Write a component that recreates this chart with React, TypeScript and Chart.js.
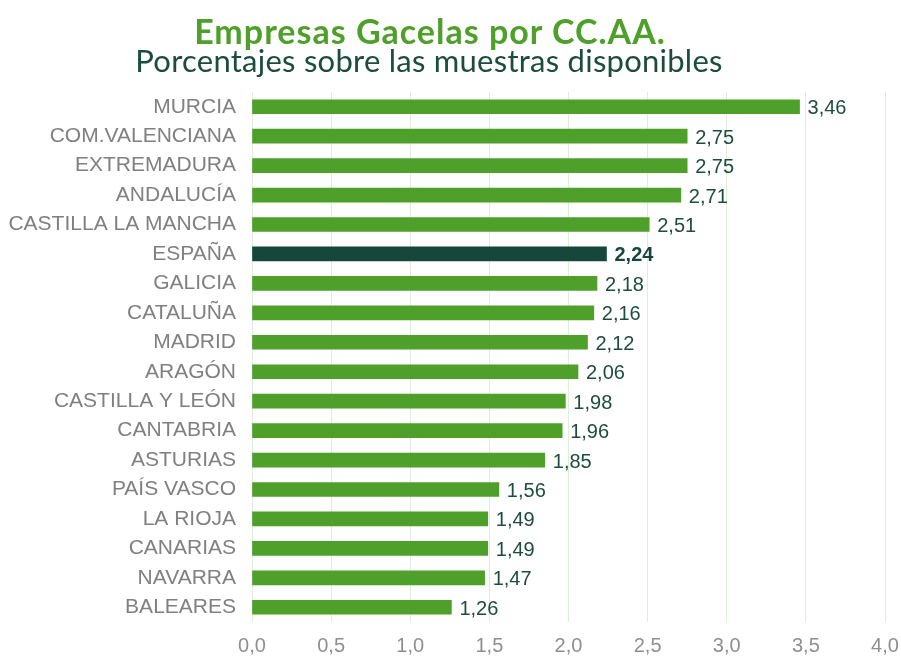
import React, { useEffect, useRef } from "react";
import { Chart, registerables } from "chart.js";

Chart.register(...registerables);

const categories = [
  "MURCIA",
  "COM.VALENCIANA",
  "EXTREMADURA",
  "ANDALUCÍA",
  "CASTILLA LA MANCHA",
  "ESPAÑA",
  "GALICIA",
  "CATALUÑA",
  "MADRID",
  "ARAGÓN",
  "CASTILLA Y LEÓN",
  "CANTABRIA",
  "ASTURIAS",
  "PAÍS VASCO",
  "LA RIOJA",
  "CANARIAS",
  "NAVARRA",
  "BALEARES",
];

const values = [3.46, 2.75, 2.75, 2.71, 2.51, 2.24, 2.18, 2.16, 2.12, 2.06, 1.98, 1.96, 1.85, 1.56, 1.49, 1.49, 1.47, 1.26];

const highlight = "ESPAÑA";
const titleText = "Empresas Gacelas por CC.AA.";
const subtitleText = "Porcentajes sobre las muestras disponibles";

const GREEN = "#4f9f2b";
const DARK = "#17473a";
const FONT = "'Liberation Sans', Arial, sans-serif";

const fmt = (v: number, d: number) => v.toFixed(d).replace(".", ",");

const valueLabels = {
  id: "valueLabels",
  afterDatasetsDraw(chart: any) {
    const ctx = chart.ctx;
    const meta = chart.getDatasetMeta(0);
    ctx.save();
    ctx.textBaseline = "middle";
    ctx.textAlign = "left";
    meta.data.forEach((bar: any, i: number) => {
      const isHi = categories[i] === highlight;
      ctx.font = (isHi ? "bold " : "") + "20px " + FONT;
      ctx.fillStyle = isHi ? DARK : "#1e4d3c";
      ctx.fillText(fmt(values[i], 2), bar.x + 8, bar.y + 2);
    });
    ctx.restore();
  },
};

export default function App() {
  const ref = useRef<HTMLCanvasElement>(null);
  useEffect(() => {
    document.body.style.margin = "0";
    const chart = new Chart(ref.current!, {
      type: "bar",
      data: {
        labels: categories,
        datasets: [
          {
            data: values,
            backgroundColor: categories.map((c) => (c === highlight ? DARK : GREEN)),
            barThickness: 14,
          },
        ],
      },
      options: {
        indexAxis: "y",
        animation: false,
        responsive: false,
        layout: { padding: { top: 92, right: 0, bottom: 0, left: 0 } },
        plugins: { legend: { display: false }, tooltip: { enabled: false } },
        scales: {
          x: {
            min: 0,
            max: 4,
            ticks: {
              stepSize: 0.5,
              color: "#8f8f8f",
              font: { family: FONT, size: 20 },
              padding: 12,
              callback: (v: any) => fmt(Number(v), 1),
            },
            grid: { color: "#ddeedd", drawTicks: false, lineWidth: 1 },
            border: { display: false },
            afterFit: (s: any) => {
              s.height = 35;
              s.paddingRight = 16;
              s.paddingLeft = 0;
            },
          },
          y: {
            ticks: {
              color: "#808080",
              font: { family: FONT, size: 21 },
              padding: 16,
            },
            grid: { display: false, drawTicks: false },
            border: { display: false },
            afterFit: (s: any) => {
              s.width = 252;
            },
          },
        },
      },
      plugins: [valueLabels],
    });
    return () => chart.destroy();
  }, []);
  return (
    <div style={{ position: "relative", width: 901, height: 657 }}>
      <canvas ref={ref} width={901} height={657} style={{ display: "block" }} />
      <div
        style={{
          position: "absolute",
          left: 0,
          width: 860,
          top: 11,
          textAlign: "center",
          fontFamily: "Lato, 'Open Sans', sans-serif",
          fontWeight: 700,
          fontSize: 34,
          letterSpacing: 1,
          color: "#4f9f2b",
          lineHeight: "40px",
        }}
      >
        {titleText}
      </div>
      <div
        style={{
          position: "absolute",
          left: 0,
          width: 858,
          top: 40,
          textAlign: "center",
          fontFamily: "Lato, 'Open Sans', sans-serif",
          fontSize: 31,
          letterSpacing: 0.25,
          color: "#1b4d3a",
          lineHeight: "40px",
        }}
      >
        {subtitleText}
      </div>
    </div>
  );
}
